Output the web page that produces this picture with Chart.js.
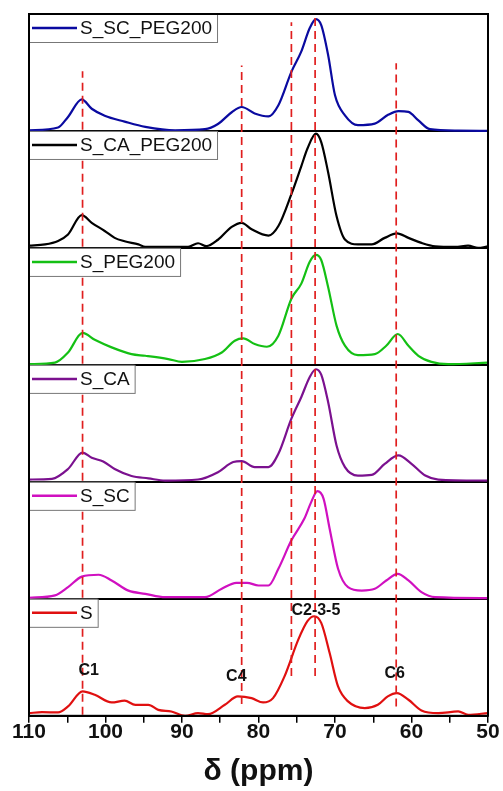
<!DOCTYPE html>
<html>
<head>
<meta charset="utf-8">
<script src="https://cdn.jsdelivr.net/npm/chart.js@4.4.1/dist/chart.umd.min.js"></script>
<style>
  html, body { margin: 0; padding: 0; background: #fff; }
  #wrap { width: 503px; height: 791px; }
</style>
</head>
<body>
<div id="wrap"><canvas id="nmrChart" width="503" height="791"></canvas></div>
<script>
"use strict";

// Sample names, bottom panel first
const sampleNames = ["S", "S_SC", "S_CA", "S_PEG200", "S_CA_PEG200", "S_SC_PEG200"];
const sampleColors = ["#e01010", "#d010c0", "#7b118f", "#14c014", "#000000", "#0a0aa0"];

// Spectra: chemical shift (ppm) and intensity (fraction of panel height)
const ppmS = [110, 108.3, 106.2, 104.9, 103, 101.4, 99.2, 97.5, 96.1, 94.4, 93.1, 91.4, 89.6, 87.9, 86.6, 84.4, 82.7, 80.9, 79.4, 78.1, 76.6, 74.8, 73.6, 72.7, 71.8, 70.7, 69.6, 68.3, 66.1, 64.4, 63.1, 61.9, 60.4, 58.7, 56.5, 53.9, 52.6, 50];
const intS = [0.023, 0.031, 0.029, 0.08, 0.209, 0.18, 0.114, 0.129, 0.094, 0.094, 0.051, 0.037, 0.0, 0.023, 0.014, 0.094, 0.166, 0.151, 0.114, 0.151, 0.337, 0.651, 0.809, 0.851, 0.794, 0.537, 0.251, 0.123, 0.066, 0.094, 0.166, 0.194, 0.137, 0.046, 0.023, 0.037, 0.009, 0.023];

const ppmSC = [110, 106.6, 104.9, 103.1, 100.9, 99.2, 97, 94.8, 92.2, 87, 84.8, 82.9, 81.5, 80, 78.7, 77.4, 75.7, 74, 73.1, 72.3, 71.5, 70.7, 69.6, 68.3, 66.5, 64.8, 63.3, 61.8, 60.4, 58.7, 56.9, 50];
const intSC = [0.009, 0.03, 0.1, 0.19, 0.206, 0.157, 0.07, 0.043, 0.014, 0.014, 0.086, 0.137, 0.137, 0.114, 0.114, 0.257, 0.5, 0.686, 0.829, 0.92, 0.857, 0.6, 0.257, 0.1, 0.071, 0.086, 0.157, 0.214, 0.157, 0.057, 0.014, 0.006];

const ppmCA = [110, 107, 104.9, 103, 101.8, 100.3, 98.8, 96.6, 94.4, 92.2, 87.9, 85.3, 83.3, 82.2, 80.5, 78.7, 77.4, 75.7, 74.4, 73.3, 72.5, 71.8, 70.9, 69.8, 68.7, 67, 65.2, 63.5, 61.7, 60, 58.2, 56.5, 50];
const intCA = [0.02, 0.026, 0.11, 0.25, 0.206, 0.174, 0.11, 0.05, 0.03, 0.011, 0.02, 0.083, 0.17, 0.177, 0.126, 0.126, 0.24, 0.54, 0.726, 0.897, 0.963, 0.917, 0.683, 0.311, 0.126, 0.054, 0.06, 0.154, 0.226, 0.154, 0.054, 0.02, 0.011];

const ppmPEG = [110, 106.6, 104.9, 103, 101.4, 99.2, 96.6, 94.8, 91.8, 90, 87, 84.8, 83.1, 82, 80.5, 78.9, 77.4, 75.7, 74.4, 73.3, 72.5, 71.8, 70.9, 69.8, 68.7, 67, 64.8, 63.3, 61.8, 60.4, 59.1, 57.4, 55.2, 50];
const intPEG = [0.006, 0.02, 0.106, 0.273, 0.215, 0.15, 0.092, 0.078, 0.05, 0.026, 0.05, 0.106, 0.207, 0.227, 0.178, 0.155, 0.25, 0.566, 0.695, 0.882, 0.94, 0.897, 0.667, 0.336, 0.164, 0.083, 0.092, 0.164, 0.264, 0.164, 0.078, 0.026, 0.006, 0.02];

const ppmCAPEG = [110, 107.9, 106.2, 104.9, 103.1, 101.8, 100.1, 98.8, 97.5, 95.7, 94.8, 92.2, 89.2, 87.9, 86.8, 85.3, 83.5, 82.2, 80.9, 78.7, 77.4, 75.7, 74.4, 73.6, 72.5, 71.8, 70.9, 69.8, 68.7, 67, 65.2, 63.5, 61.9, 60.4, 58.7, 56.9, 54.3, 52.6, 51.3, 50];
const intCAPEG = [0.02, 0.03, 0.06, 0.115, 0.28, 0.215, 0.145, 0.086, 0.057, 0.03, 0.01, 0.01, 0.01, 0.04, 0.015, 0.07, 0.18, 0.215, 0.16, 0.106, 0.187, 0.46, 0.7, 0.85, 0.977, 0.905, 0.647, 0.273, 0.072, 0.03, 0.03, 0.086, 0.124, 0.086, 0.043, 0.014, 0.009, 0.02, 0.0, 0.014];

const ppmSCPEG = [110, 106.2, 104.9, 103.1, 101.8, 100.1, 97.5, 94.8, 90.9, 87, 85.3, 83.5, 82.2, 80.5, 78.7, 77.4, 75.7, 74.4, 73.3, 72.5, 71.8, 70.9, 70, 68.7, 67, 64.8, 63, 61.7, 60.4, 59.1, 57.6, 53.9, 50];
const intSCPEG = [0.005, 0.03, 0.12, 0.27, 0.19, 0.13, 0.08, 0.035, 0.005, 0.015, 0.06, 0.16, 0.205, 0.15, 0.125, 0.22, 0.505, 0.68, 0.88, 0.957, 0.905, 0.65, 0.305, 0.134, 0.05, 0.063, 0.14, 0.17, 0.163, 0.09, 0.015, 0.003, 0.0];

const spectraPpm = [ppmS, ppmSC, ppmCA, ppmPEG, ppmCAPEG, ppmSCPEG];
const spectraInt = [intS, intSC, intCA, intPEG, intCAPEG, intSCPEG];

// Dashed reference lines (ppm) and their vertical extent in panel units (0 = bottom, 6 = top)
const markerPpm = [103, 82.2, 75.7, 72.6, 62];
const markerBottom = [0.01, 0.1, 0.34, 0.34, 0.08];
const markerTop = [5.51, 5.56, 5.93, 5.97, 5.58];

// Peak assignments in the bottom panel
const peakLabels = ["C1", "C4", "C2-3-5", "C6"];
const peakPpm = [102.2, 82.9, 72.5, 62.2];
const peakHeight = [0.39, 0.335, 0.9, 0.365];

// x-axis ticks
const xTickValues = [110, 100, 90, 80, 70, 60, 50];

const datasets = [];

// Dashed guides first so they sit on top of the spectra
markerPpm.forEach((p, i) => {
    datasets.push({
        data: [{ x: p, y: markerBottom[i] }, { x: p, y: markerTop[i] }],
        borderColor: "#e01e1e",
        borderWidth: 1.7,
        borderDash: [8, 5],
        pointRadius: 0,
        fill: false
    });
});

sampleNames.forEach((name, k) => {
    datasets.push({
        label: name,
        data: spectraPpm[k].map((p, j) => ({ x: p, y: k + spectraInt[k][j] })),
        borderColor: sampleColors[k],
        borderWidth: 2.2,
        pointRadius: 0,
        cubicInterpolationMode: "monotone",
        fill: false
    });
});

// Frame round the plot area plus one legend box per panel and peak labels
const panelDecor = {
    id: "panelDecor",
    afterDatasetsDraw(chart) {
        const { ctx, chartArea: a, scales: { x, y } } = chart;
        ctx.save();

        // peak labels
        ctx.fillStyle = "#111";
        ctx.font = "bold 16px Arial, 'Liberation Sans', sans-serif";
        ctx.textAlign = "center";
        ctx.textBaseline = "middle";
        peakLabels.forEach((t, i) => {
            ctx.fillText(t, x.getPixelForValue(peakPpm[i]), y.getPixelForValue(peakHeight[i]));
        });

        // legend boxes
        ctx.font = "19px Arial, 'Liberation Sans', sans-serif";
        ctx.textAlign = "left";
        sampleNames.forEach((name, k) => {
            const top = y.getPixelForValue(k + 1);
            const w = ctx.measureText(name).width + 56;
            const h = 28;
            ctx.fillStyle = "#fff";
            ctx.fillRect(a.left, top, w, h);
            ctx.strokeStyle = "#777";
            ctx.lineWidth = 1;
            ctx.strokeRect(a.left + 0.5, top + 0.5, w, h);
            ctx.strokeStyle = sampleColors[k];
            ctx.lineWidth = 2.5;
            ctx.beginPath();
            ctx.moveTo(a.left + 3, top + h / 2);
            ctx.lineTo(a.left + 48, top + h / 2);
            ctx.stroke();
            ctx.fillStyle = "#111";
            ctx.fillText(name, a.left + 51, top + h / 2 + 1);
        });

        // frame
        ctx.strokeStyle = "#000";
        ctx.lineWidth = 2;
        ctx.strokeRect(a.left, a.top, a.right - a.left, a.bottom - a.top);
        ctx.restore();
    }
};

const ctx = document.getElementById("nmrChart").getContext("2d");
new Chart(ctx, {
    type: "line",
    data: { datasets },
    options: {
        responsive: false,
        animation: false,
        layout: { padding: { left: 29, right: 15, top: 14, bottom: 1 } },
        plugins: { legend: { display: false }, tooltip: { enabled: false } },
        scales: {
            x: {
                type: "linear",
                reverse: true,
                min: 50,
                max: 110,
                border: { color: "#000", width: 2 },
                grid: { drawOnChartArea: false, color: "#000", lineWidth: 1.5, tickLength: 7 },
                ticks: {
                    stepSize: 5,
                    autoSkip: false,
                    maxRotation: 0,
                    padding: -3,
                    color: "#111",
                    font: { size: 21, weight: "bold", family: "Arial, 'Liberation Sans', sans-serif" },
                    callback: v => (xTickValues.includes(v) ? String(v) : "")
                },
                title: {
                    display: true,
                    text: "δ (ppm)",
                    color: "#111",
                    padding: { top: 12, bottom: 0 },
                    font: { size: 30, weight: "bold", family: "Arial, 'Liberation Sans', sans-serif" }
                }
            },
            y: {
                min: 0,
                max: 6,
                border: { color: "#000", width: 2 },
                grid: { color: "#000", lineWidth: 2, drawTicks: false },
                ticks: { display: false, stepSize: 1 },
                afterFit: s => { s.width = 0; }
            }
        }
    },
    plugins: [panelDecor]
});
</script>
</body>
</html>
